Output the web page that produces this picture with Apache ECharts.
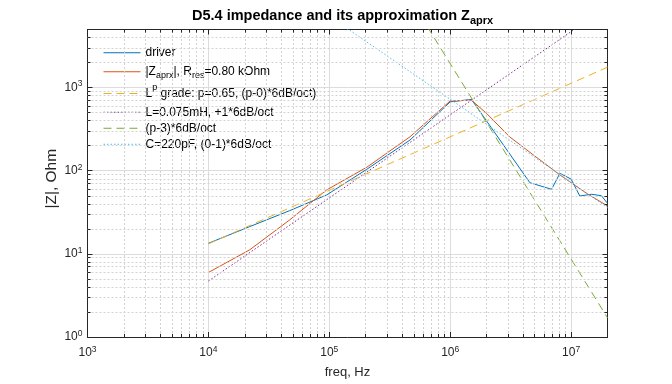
<!DOCTYPE html>
<html>
<head>
<meta charset="utf-8">
<script src="https://cdn.jsdelivr.net/npm/echarts@6/dist/echarts.min.js"></script>
<style>
html,body{margin:0;padding:0;background:#fff;}
#c{width:672px;height:384px;}
</style>
</head>
<body>
<div id="c"></div>
<script>
// ---- data ----
const driverFreq = [1e4, 2.2e4, 4.7e4, 9.5e4, 2.04e5, 4.65e5, 1e6, 1.5e6, 4.56e6, 6.9e6, 8.07e6, 1e7, 1.18e7, 1.47e7, 1.78e7, 2e7];
const driverZ    = [13.4, 21.3, 33.1, 51.1, 104, 234, 674, 720, 71.8, 59.8, 93, 79.4, 49.7, 52.1, 50.1, 40.6];
const aprxFreq   = [1e4, 2.2e4, 4.7e4, 9.5e4, 2.04e5, 4.65e5, 1e6, 1.5e6, 2e6, 3.1e6, 4.9e6, 8.1e6, 1.34e7, 2e7];
const aprxZ      = [5.97, 11.2, 25.6, 58.7, 110, 256, 692, 706, 489, 256, 154, 88.8, 53.6, 37.7];
const lpFreq = [1e4, 2e7];
const lpZ    = [13.2, 1760];
const lFreq  = [1e4, 2e7];
const lZ     = [4.71, 9425];
const p3Freq = [5e5, 2e7];
const p3Z    = [9900, 1.7];
const cFreq  = [1e4, 2e7];
const cZ     = [72340, 36.2];
const seriesNames = [
  'driver',
  '|Zaprx|, Rres=0.80 kOhm',
  'Lp grade: p=0.65, (p-0)*6dB/oct)',
  'L=0.075mH, +1*6dB/oct',
  '(p-3)*6dB/oct',
  'C=220pF, (0-1)*6dB/oct'
];
const legendRich = {
  'driver': 'driver',
  '|Zaprx|, Rres=0.80 kOhm': '|Z{sub|aprx}|, R{sub|res}=0.80 kOhm',
  'Lp grade: p=0.65, (p-0)*6dB/oct)': 'L{sup|p} grade: p=0.65, (p-0)*6dB/oct)',
  'L=0.075mH, +1*6dB/oct': 'L=0.075mH, +1*6dB/oct',
  '(p-3)*6dB/oct': '(p-3)*6dB/oct',
  'C=220pF, (0-1)*6dB/oct': 'C=220pF, (0-1)*6dB/oct'
};
const titleText = 'D5.4 impedance and its approximation Z{sub|aprx}';
const xName = 'freq, Hz';
const yName = '|Z|, Ohm';
const xMin = 1e3, xMax = 2e7, yMin = 1, yMax = 5000;

// ---- helpers ----
const pair = (f, z) => f.map((v, i) => [v, z[i]]);
const FONT = 'Liberation Sans, Arial, Helvetica, sans-serif';
const TXT = '#262626';
const mult = [2,3,4,5,6,7,8,9];
const xMinor = [], yMinor = [];
for (let d = 1e3; d < xMax; d *= 10) mult.forEach(m => { if (m*d < xMax) xMinor.push(m*d); });
for (let d = 1; d < yMax; d *= 10) mult.forEach(m => { if (m*d < yMax) yMinor.push(m*d); });

const gridLines = [];
xMinor.forEach(v => gridLines.push({xAxis: v}));
yMinor.forEach(v => gridLines.push({yAxis: v}));

const tX = 1.09, tY = 1.06; // minor tick length factors (log space)
const tickLines = [];
xMinor.forEach(v => {
  tickLines.push([{coord: [v, yMin]}, {coord: [v, yMin * tX]}]);
  tickLines.push([{coord: [v, yMax]}, {coord: [v, yMax / tX]}]);
});
yMinor.forEach(v => {
  tickLines.push([{coord: [xMin, v]}, {coord: [xMin * tY, v]}]);
  tickLines.push([{coord: [xMax, v]}, {coord: [xMax / tY, v]}]);
});

const labelFmt = v => '{b|10}{sup|' + Math.round(Math.log10(v)) + '}';
const labelRich = {
  b: {fontSize: 12, fontFamily: FONT, color: TXT},
  sup: {fontSize: 8.5, fontFamily: FONT, color: TXT, padding: [0, 0, 7, 0]}
};

function lineSeries(name, data, color, type) {
  return {
    name, type: 'line', data, symbol: 'none', z: 3, clip: true,
    lineStyle: {color, width: 1, type: type || 'solid'},
    itemStyle: {color},
    emphasis: {disabled: true}
  };
}

const option = {
  animation: false,
  backgroundColor: '#fff',
  title: {
    text: titleText, left: 187, top: 1,
    textStyle: {
      fontSize: 14.5, fontWeight: 'bold', fontFamily: FONT, color: '#000',
      rich: {sub: {fontSize: 11, fontWeight: 'bold', fontFamily: FONT, color: '#000', padding: [9, 0, 0, 0]}}
    }
  },
  grid: {left: 87.5, right: 64.5, top: 29.5, bottom: 46.5},
  legend: {
    data: seriesNames, orient: 'vertical', left: 98, top: 39.75,
    itemWidth: 37, itemHeight: 10, itemGap: 0,
    formatter: n => legendRich[n],
    itemStyle: {opacity: 0},
    lineStyle: {width: 1},
    textStyle: {
      fontSize: 12, lineHeight: 16, fontFamily: FONT, color: '#000', verticalAlign: 'middle',
      rich: {
        sub: {fontSize: 9, lineHeight: 22, fontFamily: FONT, color: '#000', verticalAlign: 'middle', padding: [8, 0, 0, 0]},
        sup: {fontSize: 9, lineHeight: 21.5, fontFamily: FONT, color: '#000', verticalAlign: 'middle', padding: [0, 0, 11, 0]}
      }
    }
  },
  xAxis: [{
    type: 'log', logBase: 10, min: xMin, max: xMax,
    name: xName, nameLocation: 'middle', nameGap: 29, nameMoveOverlap: false,
    nameTextStyle: {fontSize: 13, fontFamily: FONT, color: TXT},
    axisLine: {show: true, lineStyle: {color: TXT, width: 1}},
    axisTick: {show: true, inside: true, length: 5, lineStyle: {color: TXT}},
    axisLabel: {formatter: labelFmt, rich: labelRich, margin: 8, showMaxLabel: false, showMinLabel: true},
    splitLine: {show: true, lineStyle: {color: '#dcdcdc', width: 1}}
  }, {
    type: 'log', logBase: 10, min: xMin, max: xMax, position: 'top',
    axisLine: {show: true, lineStyle: {color: TXT, width: 1}},
    axisTick: {show: true, inside: true, length: 5, lineStyle: {color: TXT}},
    axisLabel: {show: false}, splitLine: {show: false}
  }],
  yAxis: [{
    type: 'log', logBase: 10, min: yMin, max: yMax,
    name: yName, nameLocation: 'middle', nameGap: 28, nameMoveOverlap: false,
    nameTextStyle: {fontSize: 15.5, fontFamily: FONT, color: TXT, padding: [0, 0, 0, 9]},
    axisLine: {show: true, lineStyle: {color: TXT, width: 1}},
    axisTick: {show: true, inside: true, length: 5, lineStyle: {color: TXT}},
    axisLabel: {formatter: labelFmt, rich: labelRich, margin: 5, showMaxLabel: false},
    splitLine: {show: true, lineStyle: {color: '#dcdcdc', width: 1}}
  }, {
    type: 'log', logBase: 10, min: yMin, max: yMax, position: 'right',
    axisLine: {show: true, lineStyle: {color: TXT, width: 1}},
    axisTick: {show: true, inside: true, length: 5, lineStyle: {color: TXT}},
    axisLabel: {show: false}, splitLine: {show: false}
  }],
  series: [
    {
      name: 'minorgrid', type: 'line', data: [], z: 1, silent: true,
      markLine: {
        silent: true, symbol: 'none', label: {show: false}, animation: false,
        lineStyle: {type: [2, 2], color: '#d2d2d2', width: 1},
        emphasis: {disabled: true},
        data: gridLines
      }
    },
    {
      name: 'minorticks', type: 'line', data: [], z: 4, silent: true,
      markLine: {
        silent: true, symbol: 'none', label: {show: false}, animation: false,
        lineStyle: {type: 'solid', color: TXT, width: 1},
        emphasis: {disabled: true},
        data: tickLines
      }
    },
    lineSeries(seriesNames[0], pair(driverFreq, driverZ), '#0072BD'),
    lineSeries(seriesNames[1], pair(aprxFreq, aprxZ), '#D95319'),
    lineSeries(seriesNames[2], pair(lpFreq, lpZ), '#EDB120', [8, 5]),
    lineSeries(seriesNames[3], pair(lFreq, lZ), '#7E2F8E', [1.5, 2]),
    lineSeries(seriesNames[4], pair(p3Freq, p3Z), '#77AC30', [8, 5]),
    lineSeries(seriesNames[5], pair(cFreq, cZ), '#4DBEEE', [1.5, 2])
  ]
};
const chart = echarts.init(document.getElementById('c'), null, {renderer: 'canvas'});
chart.setOption(option);
</script>
</body>
</html>
